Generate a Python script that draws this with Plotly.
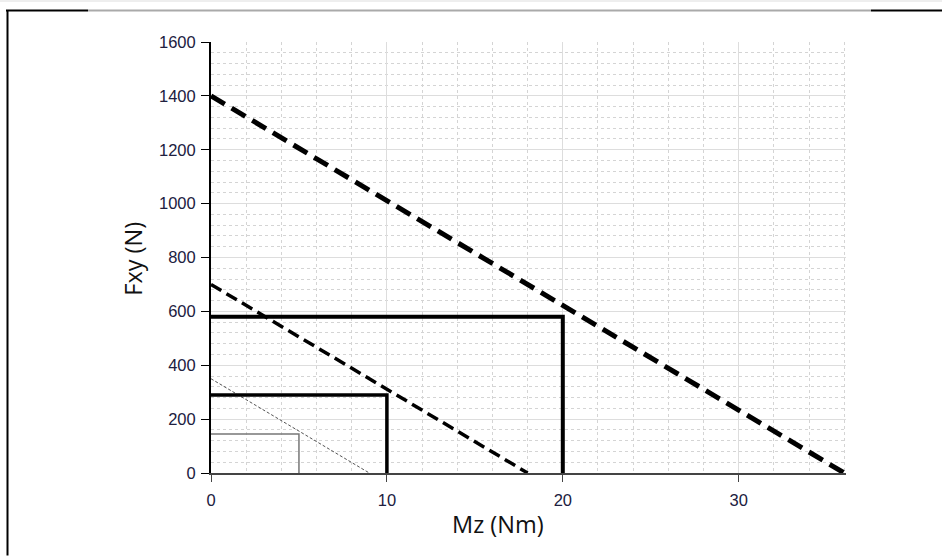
import plotly.graph_objects as go

# Data
large_limit_x = [0, 36]
large_limit_y = [1400, 0]
medium_limit_x = [0, 18]
medium_limit_y = [700, 0]
small_limit_x = [0, 9]
small_limit_y = [350, 0]

rect_large_x = [0, 20, 20]
rect_large_y = [580, 580, 0]
rect_medium_x = [0, 10, 10]
rect_medium_y = [290, 290, 0]
rect_small_x = [0, 5, 5]
rect_small_y = [145, 145, 0]

x_ticks = [0, 10, 20, 30]
y_ticks = [0, 200, 400, 600, 800, 1000, 1200, 1400, 1600]
x_title = "Mz (Nm)"
y_title = "Fxy (N)"

W, H = 942, 556
L, R, T, B = 211, 96, 42, 82.5
pw = W - L - R
ph = H - T - B

def px(xp):
    return (xp - L) / pw

def py(yp):
    return (H - B - yp) / ph

fig = go.Figure()

fig.add_trace(go.Scatter(x=rect_small_x, y=rect_small_y, mode="lines",
                         line=dict(color="#777777", width=1.5), hoverinfo="skip"))
fig.add_trace(go.Scatter(x=small_limit_x, y=small_limit_y, mode="lines",
                         line=dict(color="#555555", width=1, dash="3px,2px"), hoverinfo="skip"))
fig.add_trace(go.Scatter(x=rect_medium_x, y=rect_medium_y, mode="lines",
                         line=dict(color="black", width=3.5), hoverinfo="skip"))
fig.add_trace(go.Scatter(x=medium_limit_x, y=medium_limit_y, mode="lines",
                         line=dict(color="black", width=3.5, dash="12px,6px"), hoverinfo="skip"))
fig.add_trace(go.Scatter(x=rect_large_x, y=rect_large_y, mode="lines",
                         line=dict(color="black", width=4), hoverinfo="skip"))
fig.add_trace(go.Scatter(x=large_limit_x, y=large_limit_y, mode="lines",
                         line=dict(color="black", width=5, dash="16px,8px"), hoverinfo="skip"))

tickfont = dict(family="Liberation Sans, Arial, sans-serif", size=16.5, color="#202040")
titlefont = dict(family="Open Sans, Noto Sans, sans-serif", size=23.5, color="#111111")

fig.update_xaxes(
    range=[0, 36.1], tickvals=x_ticks, ticktext=[str(v) for v in x_ticks],
    showline=True, linecolor="#444444", linewidth=2,
    ticks="outside", ticklen=7, tickcolor="#444444", tickwidth=1,
    ticklabelstandoff=4,
    showgrid=True, gridcolor="#dddddd", gridwidth=1.2,
    minor=dict(dtick=2, tick0=0, showgrid=True, gridcolor="#d4d4d4", griddash="dot", gridwidth=1, ticks=""),
    zeroline=False, tickfont=tickfont,
    fixedrange=True,
)
fig.update_yaxes(
    range=[0, 1600], tickvals=y_ticks, ticktext=[str(v) for v in y_ticks],
    showline=True, linecolor="black", linewidth=2,
    ticks="outside", ticklen=8, tickcolor="black", tickwidth=1,
    ticklabelstandoff=2,
    showgrid=True, gridcolor="#dddddd", gridwidth=1.2,
    minor=dict(dtick=40, tick0=0, showgrid=True, gridcolor="#d4d4d4", griddash="dot", gridwidth=1, ticks=""),
    zeroline=False, tickfont=tickfont,
    fixedrange=True,
)

shapes = [
    dict(type="line", xref="paper", yref="paper", x0=px(0), x1=px(W), y0=py(1), y1=py(1),
         line=dict(color="#eeeeee", width=2)),
    dict(type="line", xref="paper", yref="paper", x0=px(6), x1=px(88), y0=py(10.5), y1=py(10.5),
         line=dict(color="black", width=2)),
    dict(type="line", xref="paper", yref="paper", x0=px(88), x1=px(871), y0=py(10.5), y1=py(10.5),
         line=dict(color="#aaaaaa", width=2)),
    dict(type="line", xref="paper", yref="paper", x0=px(871), x1=px(W), y0=py(10.5), y1=py(10.5),
         line=dict(color="black", width=2)),
    dict(type="line", xref="paper", yref="paper", x0=px(7.5), x1=px(7.5), y0=py(10), y1=py(H),
         line=dict(color="black", width=2)),
]

annotations = [
    dict(text=x_title, xref="paper", yref="paper", x=px(498), y=py(525),
         xanchor="center", yanchor="middle", showarrow=False, font=titlefont),
    dict(text=y_title, xref="paper", yref="paper", x=px(133), y=py(259),
         xanchor="center", yanchor="middle", showarrow=False, font=titlefont, textangle=-90),
]

fig.update_layout(
    width=W, height=H,
    margin=dict(l=L, r=R, t=T, b=B),
    paper_bgcolor="white", plot_bgcolor="white",
    showlegend=False,
    shapes=shapes,
    annotations=annotations,
)

fig.write_html("out.html")
